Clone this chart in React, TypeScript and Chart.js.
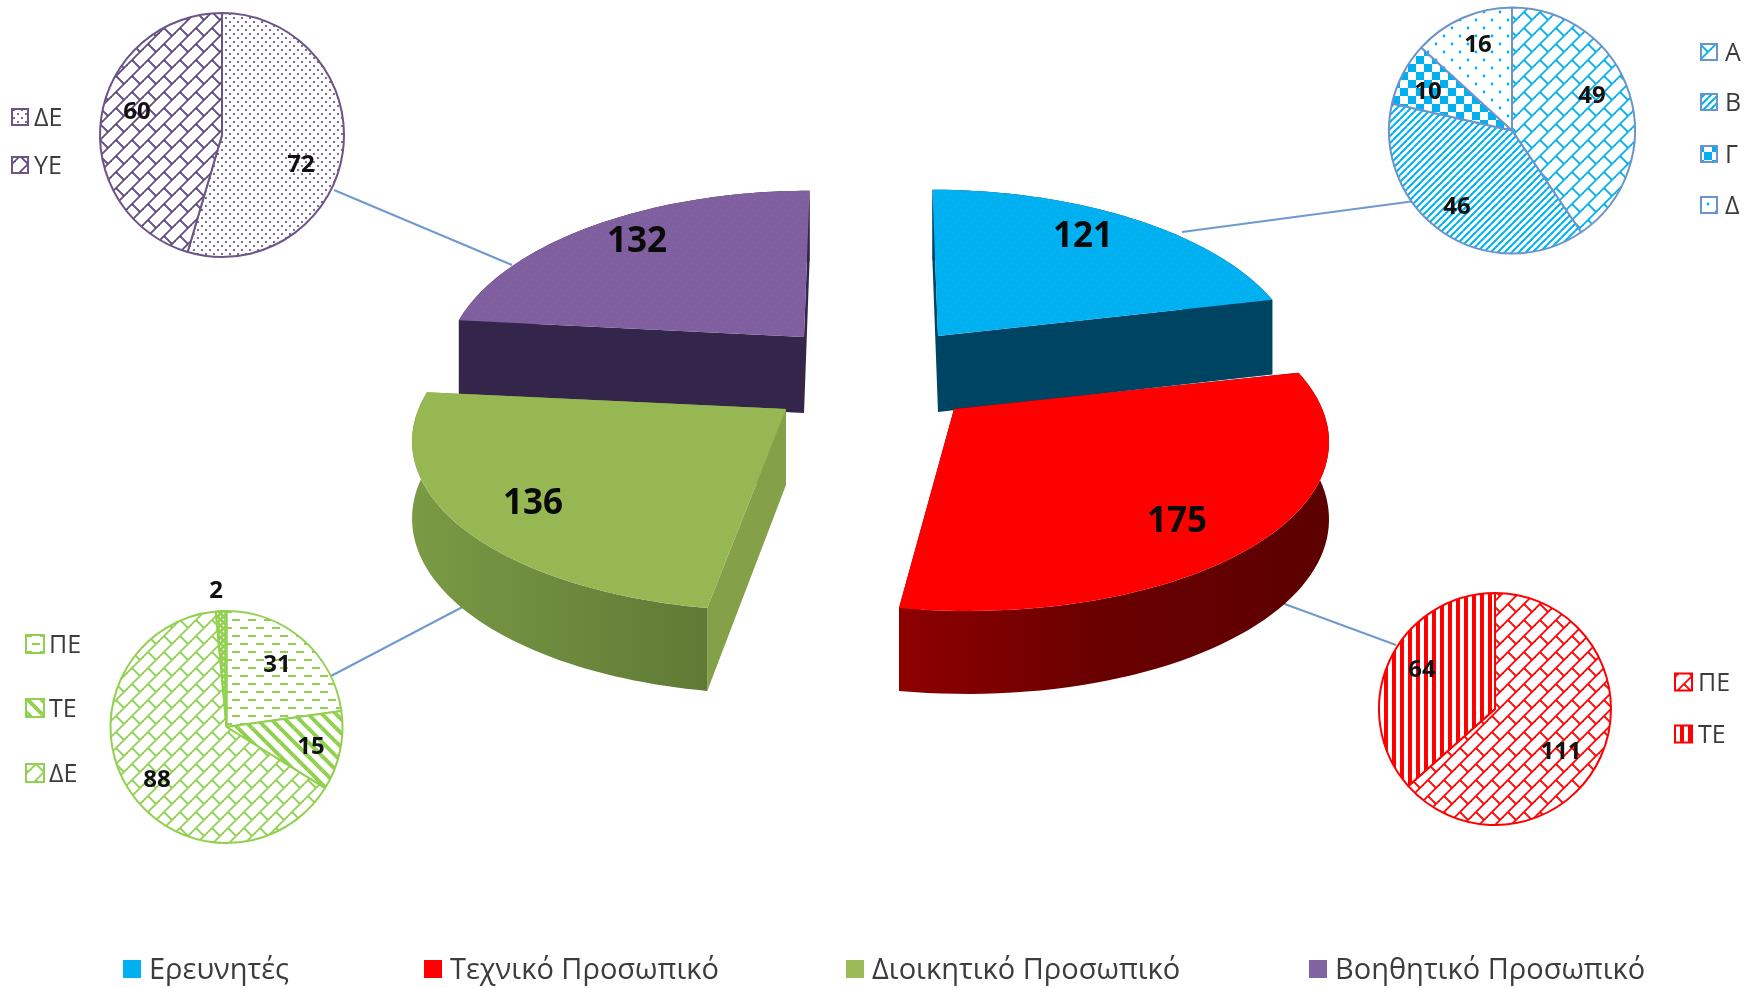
import React, { useEffect, useRef } from "react";
import { Chart, registerables } from "chart.js";
Chart.register(...registerables);

// ---------- data ----------
const mainCategories = ["Ερευνητές", "Τεχνικό Προσωπικό", "Διοικητικό Προσωπικό", "Βοηθητικό Προσωπικό"];
const mainValues = [121, 175, 136, 132];
const researcherLabels = ["Α", "Β", "Γ", "Δ"];
const researcherValues = [49, 46, 10, 16];
const technicalLabels = ["ΠΕ", "ΤΕ"];
const technicalValues = [111, 64];
const adminLabels = ["ΠΕ", "ΤΕ", "ΔΕ", ""];
const adminValues = [31, 15, 88, 2];
const supportLabels = ["ΔΕ", "ΥΕ"];
const supportValues = [72, 60];

// ---------- layout / style ----------
const W = 1744, H = 988;
const FONT = '"Open Sans", "Noto Sans", sans-serif';

function tile(w: number, h: number, draw: (c: CanvasRenderingContext2D) => void, bg = "#fff") {
  const cv = document.createElement("canvas");
  cv.width = w; cv.height = h;
  const c = cv.getContext("2d")!;
  c.fillStyle = bg; c.fillRect(0, 0, w, h);
  for (const ox of [-w, 0, w]) for (const oy of [-h, 0, h]) {
    c.save(); c.translate(ox, oy); draw(c); c.restore();
  }
  return c.createPattern(cv, "repeat")!;
}
function seg(c: CanvasRenderingContext2D, a: number, b: number, d: number, e: number) {
  c.beginPath(); c.moveTo(a, b); c.lineTo(d, e); c.stroke();
}
function dot(c: CanvasRenderingContext2D, x: number, y: number, r: number) {
  c.beginPath(); c.arc(x, y, r, 0, Math.PI * 2); c.fill();
}
function makePattern(kind: string, color: string) {
  const set = (c: CanvasRenderingContext2D, lw: number) => { c.strokeStyle = color; c.fillStyle = color; c.lineWidth = lw; };
  switch (kind) {
    case "brick": {
      const T = 16;
      return tile(T, T, (c) => {
        set(c, 1.8);
        seg(c, 0, T, T, 0);
        seg(c, T * 0.25, T * 0.75, T * 0.75, T * 1.25);
      });
    }
    case "up": return tile(7, 7, (c) => { set(c, 2); seg(c, 0, 7, 7, 0); });
    case "down": return tile(14, 14, (c) => { set(c, 4); seg(c, 0, 0, 14, 14); });
    case "check": return tile(16, 16, (c) => { c.fillStyle = color; c.fillRect(0, 0, 8, 8); c.fillRect(8, 8, 8, 8); });
    case "sparse": return tile(16, 16, (c) => { set(c, 1); dot(c, 4, 4, 1.4); dot(c, 12, 12, 1.4); });
    case "dense": return tile(8, 8, (c) => { set(c, 1); dot(c, 2, 2, 1.1); dot(c, 6, 6, 1.1); });
    case "dash": return tile(16, 16, (c) => { set(c, 2); seg(c, 0, 4, 8, 4); seg(c, 8, 12, 16, 12); });
    case "vert": return tile(8, 8, (c) => { c.fillStyle = color; c.fillRect(0, 0, 4, 8); });
    case "solidDots": return tile(6, 6, (c) => { c.fillStyle = "#fff"; dot(c, 1.5, 1.5, 0.9); dot(c, 4.5, 4.5, 0.9); }, color);
    default: return color as any;
  }
}
const FLECKS = [[1, 2], [6, 1], [10, 4], [3, 7], [8, 9], [13, 11], [5, 12], [11, 14], [1, 13], [14, 6]];
function stipple(base: string, fleck: string) {
  return tile(16, 16, (c) => {
    c.fillStyle = fleck;
    for (const [x, y] of FLECKS) c.fillRect(x, y, 1, 1);
  }, base);
}

const smallPies = [
  {
    labels: researcherLabels, values: researcherValues, kinds: ["brick", "up", "check", "sparse"],
    color: "#00b0f0", border: "#6a94cc", cx: 1512, cy: 130.5, r: 123,
    labelAt: [[1592, 96], [1457, 207], [1428, 92], [1478, 45]],
    legend: { box: 1701, boxSize: 16, text: 1725, ys: [52, 102, 154, 205] },
  },
  {
    labels: technicalLabels, values: technicalValues, kinds: ["brick", "vert"],
    color: "#ff0000", border: "#ff0000", cx: 1495, cy: 709, r: 116,
    labelAt: [[1561, 752], [1422, 670]],
    legend: { box: 1675, boxSize: 17, text: 1698, ys: [682, 734] },
  },
  {
    labels: adminLabels, values: adminValues, kinds: ["dash", "down", "brick", "solidDots"],
    color: "#92d050", border: "#92d050", cx: 226.5, cy: 727, r: 116,
    labelAt: [[277, 665], [311, 747], [157, 780], [216, 591]],
    legend: { box: 26, boxSize: 18, text: 49, ys: [644, 708, 773] },
  },
  {
    labels: supportLabels, values: supportValues, kinds: ["dense", "brick"],
    color: "#604a7b", border: "#6b5488", cx: 222, cy: 135, r: 122,
    labelAt: [[301, 165], [137, 112]],
    legend: { box: 12, boxSize: 16, text: 34, ys: [117, 165] },
  },
];

const connectors = [
  [1182, 232, 1415, 201],
  [1282, 603, 1396, 645],
  [331, 676, 472, 602],
  [334, 190, 512, 265],
];

// explosion apex, shear, width and colours of each 3D wedge, order as mainCategories
const wedges = [
  { ax: 938, ay: 336, shear: 0.038, sx: 0.987, top: "#00b0f0", swatch: "#00b0f0", fleck: "#1cb8f0", radial: "#004464", arc: ["#004464", "#004464"], label: [1083, 237] },
  { ax: 954, ay: 409, shear: 0.065, sx: 1.02, top: "#ff0000", swatch: "#ff0000", fleck: "#ff0000", radial: "#600000", arc: ["#8e0000", "#5c0000"], label: [1177, 522] },
  { ax: 786, ay: 409, shear: -0.055, sx: 1.018, top: "#96b851", swatch: "#9bbb59", fleck: "#b5a88e", radial: "#84a048", arc: ["#7a9a45", "#5f7a35"], label: [533, 504] },
  { ax: 804, ay: 337, shear: -0.038, sx: 0.978, top: "#7f5f9f", swatch: "#8064a2", fleck: "#8d6f9c", radial: "#33264a", arc: ["#33264a", "#33264a"], label: [637, 242] },
];
const drawOrder = [3, 0, 2, 1];
const KY = 0.47, PERSP = 0.16, DEPTH = 76;
const mainLegend = { xs: [123, 424, 846, 1309], y: 969, box: 18, gap: 26, textDy: 2 };
const SMALL_TEXT_DY = 1.5;
const mainRadius = 361;

const wedge3d = {
  id: "wedge3d",
  beforeDatasetsDraw(chart: any) {
    const ctx = chart.ctx as CanvasRenderingContext2D;
    ctx.save();
    ctx.strokeStyle = "#6f9ad0"; ctx.lineWidth = 2;
    for (const [a, b, c, d] of connectors) seg(ctx, a, b, c, d);
    const arcs = chart.getDatasetMeta(0).data;
    for (const i of drawOrder) {
      const arc = arcs[i], w = wedges[i];
      const Rx = arc.outerRadius * w.sx, Ry = arc.outerRadius * KY;
      const a0 = arc.startAngle + Math.PI / 2, a1 = arc.endAngle + Math.PI / 2;
      const pt = (th: number, rho: number) => {
        const u = Math.sin(th) * rho, v = Math.cos(th) * rho;
        const s = 1 / (1 + PERSP * v);
        const dy = -Ry * v * s;
        return { x: w.ax + Rx * u * s + w.shear * dy, y: w.ay + dy, d: DEPTH * Math.sqrt(s) };
      };
      const N = 60;
      const rim: any[] = [];
      for (let k = 0; k <= N; k++) rim.push(pt(a0 + ((a1 - a0) * k) / N, 1));
      const apex = pt(a0, 0);
      // radial walls
      ctx.fillStyle = w.radial;
      for (const e of [rim[0], rim[N]]) {
        ctx.beginPath();
        ctx.moveTo(apex.x, apex.y); ctx.lineTo(e.x, e.y);
        ctx.lineTo(e.x, e.y + e.d); ctx.lineTo(apex.x, apex.y + apex.d);
        ctx.closePath(); ctx.fill();
      }
      // outer wall
      const xs = rim.map((p) => p.x);
      const g = ctx.createLinearGradient(Math.min(...xs), 0, Math.max(...xs), 0);
      if (i === 1) { g.addColorStop(0, w.arc[0]); g.addColorStop(0.45, "#6a0000"); g.addColorStop(1, w.arc[1]); }
      else { g.addColorStop(0, w.arc[0]); g.addColorStop(1, w.arc[1]); }
      ctx.fillStyle = g;
      ctx.beginPath();
      rim.forEach((p, k) => (k ? ctx.lineTo(p.x, p.y) : ctx.moveTo(p.x, p.y)));
      for (let k = N; k >= 0; k--) ctx.lineTo(rim[k].x, rim[k].y + rim[k].d);
      ctx.closePath(); ctx.fill();
      // top face
      ctx.fillStyle = stipple(w.top, w.fleck);
      ctx.beginPath(); ctx.moveTo(apex.x, apex.y);
      rim.forEach((p) => ctx.lineTo(p.x, p.y));
      ctx.closePath(); ctx.fill();
    }
    ctx.restore();
  },
  beforeDatasetDraw() { return false; },
  afterDatasetsDraw(chart: any) {
    const ctx = chart.ctx as CanvasRenderingContext2D;
    const ds = chart.data.datasets[0];
    ctx.save();
    ctx.textBaseline = "middle";
    ctx.textAlign = "center";
    ctx.fillStyle = "#0a0a0a";
    ctx.font = `bold 35px ${FONT}`;
    ds.data.forEach((v: number, i: number) => ctx.fillText(String(v), wedges[i].label[0], wedges[i].label[1]));
    // legend
    ctx.textAlign = "left";
    ctx.font = `29px ${FONT}`;
    chart.data.labels.forEach((t: string, i: number) => {
      const x = mainLegend.xs[i];
      ctx.fillStyle = wedges[i].swatch;
      ctx.fillRect(x, mainLegend.y - mainLegend.box / 2, mainLegend.box, mainLegend.box);
      ctx.fillStyle = "#3c3c3c";
      ctx.fillText(t, x + mainLegend.gap, mainLegend.y + mainLegend.textDy);
    });
    ctx.restore();
  },
};

function smallDecor(cfg: (typeof smallPies)[number], patterns: any[]) {
  return {
    id: "smallDecor",
    afterDatasetsDraw(chart: any) {
      const ctx = chart.ctx as CanvasRenderingContext2D;
      ctx.save();
      ctx.textBaseline = "middle";
      ctx.textAlign = "center";
      ctx.font = `bold 24px ${FONT}`;
      ctx.fillStyle = "#111";
      chart.data.datasets[0].data.forEach((v: number, i: number) =>
        ctx.fillText(String(v), cfg.labelAt[i][0], cfg.labelAt[i][1]));
      ctx.textAlign = "left";
      ctx.font = `25px ${FONT}`;
      const { box, boxSize, text, ys } = cfg.legend;
      ys.forEach((y, i) => {
        ctx.fillStyle = patterns[i];
        ctx.fillRect(box, y - boxSize / 2, boxSize, boxSize);
        ctx.strokeStyle = cfg.border; ctx.lineWidth = 2;
        ctx.strokeRect(box, y - boxSize / 2, boxSize, boxSize);
        ctx.fillStyle = "#3c3c3c";
        ctx.fillText(chart.data.labels[i], text, y + SMALL_TEXT_DY);
      });
      ctx.restore();
    },
  };
}

export default function App() {
  const mainRef = useRef<HTMLCanvasElement>(null);
  const smallRefs = useRef<(HTMLCanvasElement | null)[]>([]);

  useEffect(() => {
    const base = { animation: false as const, responsive: false, events: [] as any[] };
    const hidden = { legend: { display: false }, tooltip: { enabled: false } };
    const charts: Chart[] = [];
    const pad = (H - 2 * mainRadius) / 2;
    charts.push(new Chart(mainRef.current!, {
      type: "pie",
      data: { labels: mainCategories, datasets: [{ data: mainValues, borderWidth: 0, backgroundColor: wedges.map((w) => w.swatch) }] },
      options: { ...base, layout: { padding: { top: pad, bottom: pad, left: 0, right: 0 } }, plugins: hidden },
      plugins: [wedge3d as any],
    }));
    smallPies.forEach((cfg, idx) => {
      const patterns = cfg.kinds.map((k) => makePattern(k, cfg.color));
      const half = cfg.r + 1;
      charts.push(new Chart(smallRefs.current[idx]!, {
        type: "pie",
        data: {
          labels: cfg.labels,
          datasets: [{ data: cfg.values, backgroundColor: patterns, borderColor: cfg.border, borderWidth: 2 }],
        },
        options: {
          ...base,
          layout: { padding: { left: cfg.cx - half, top: cfg.cy - half, right: W - cfg.cx - half, bottom: H - cfg.cy - half } },
          plugins: hidden,
        },
        plugins: [smallDecor(cfg, patterns) as any],
      }));
    });
    return () => charts.forEach((c) => c.destroy());
  }, []);

  const layer: React.CSSProperties = { position: "absolute", left: 0, top: 0, display: "block", width: W, height: H };
  return (
    <div style={{ position: "absolute", left: 0, top: 0, width: W, height: H, overflow: "hidden", background: "#fff", filter: "blur(0.6px)" }}>
      <canvas ref={mainRef} width={W} height={H} style={layer} />
      {smallPies.map((_, i) => (
        <canvas key={i} ref={(el) => { smallRefs.current[i] = el; }} width={W} height={H} style={layer} />
      ))}
    </div>
  );
}
